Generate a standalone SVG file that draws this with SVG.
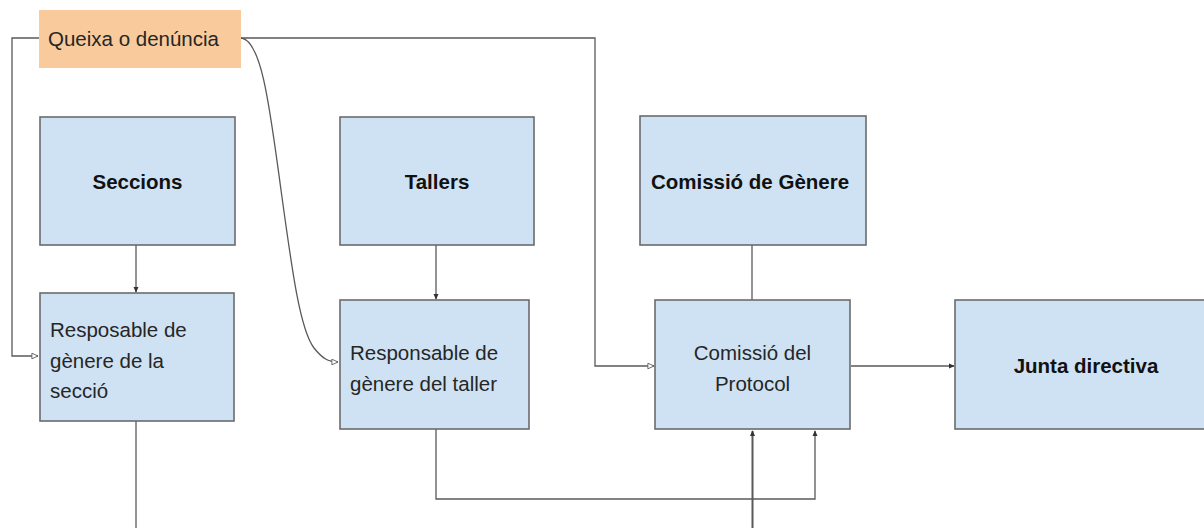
<svg xmlns="http://www.w3.org/2000/svg" width="1204" height="528" viewBox="0 0 1204 528">
<style>
.box{fill:#cfe2f3;stroke:#6b6b6b;stroke-width:1.6}
.q{fill:#f9cb9c;stroke:none}
.t{font-family:"Liberation Sans",Arial,sans-serif;font-size:20.5px;fill:#262626}
.b{font-family:"Liberation Sans",Arial,sans-serif;font-size:20.5px;font-weight:bold;fill:#111}
.c{fill:none;stroke:#595959;stroke-width:1.3}
</style>
<defs>
<marker id="fa" viewBox="0 0 8 8" refX="7" refY="4" markerWidth="6" markerHeight="6" orient="auto" markerUnits="userSpaceOnUse">
<path d="M0,0.5 L8,4 L0,7.5 Z" fill="#333"/>
</marker>
<marker id="oa" viewBox="0 0 8 8" refX="7.5" refY="4" markerWidth="7" markerHeight="7" orient="auto" markerUnits="userSpaceOnUse">
<path d="M0.5,0.8 L7.5,4 L0.5,7.2 Z" fill="#fff" stroke="#595959" stroke-width="1"/>
</marker>
</defs>
<rect width="1204" height="528" fill="#fff"/>
<g id="connectors">
<path class="c" d="M40,38 H12 V356 H38" marker-end="url(#oa)"/>
<path class="c" d="M241,38 H595 V366 H654" marker-end="url(#oa)"/>
<path class="c" d="M241,38 C262,40 270,110 281,190 C292,270 300,330 314,348 C322,358 328,362 338,362" marker-end="url(#oa)"/>
<path class="c" d="M136,245 V292" marker-end="url(#fa)"/>
<path class="c" d="M136,421 V528"/>
<path class="c" d="M436,245 V299" marker-end="url(#fa)"/>
<path class="c" d="M436,429 V499 H815 V431" marker-end="url(#fa)"/>
<path class="c" d="M752,245 V300"/>
<path class="c" style="stroke-width:2" d="M752.5,528 V431" marker-end="url(#fa)"/>
<path class="c" d="M851,366 H954" marker-end="url(#fa)"/>
</g>
<g id="queixa">
<rect class="q" x="39" y="10" width="202" height="58"/>
<text class="t" x="48" y="46">Queixa o denúncia</text>
</g>
<g id="seccions">
<rect class="box" x="40" y="117" width="195" height="128"/>
<text class="b" x="137.5" y="189" text-anchor="middle">Seccions</text>
</g>
<g id="tallers">
<rect class="box" x="340" y="117" width="194" height="128"/>
<text class="b" x="437" y="189" text-anchor="middle">Tallers</text>
</g>
<g id="comissio-genere">
<rect class="box" x="640" y="116" width="226" height="129"/>
<text class="b" x="750" y="189" text-anchor="middle">Comissió de Gènere</text>
</g>
<g id="resp-seccio">
<rect class="box" x="40" y="293" width="194" height="128"/>
<text class="t" x="50" y="337">Resposable de</text>
<text class="t" x="50" y="368">gènere de la</text>
<text class="t" x="50" y="398">secció</text>
</g>
<g id="resp-taller">
<rect class="box" x="340" y="300" width="189" height="129"/>
<text class="t" x="350" y="360">Responsable de</text>
<text class="t" x="350" y="391">gènere del taller</text>
</g>
<g id="comissio-protocol">
<rect class="box" x="655" y="300" width="195" height="129"/>
<text class="t" x="752.5" y="360" text-anchor="middle">Comissió del</text>
<text class="t" x="752.5" y="391" text-anchor="middle">Protocol</text>
</g>
<g id="junta">
<rect class="box" x="955" y="300" width="260" height="129"/>
<text class="b" x="1086" y="373" text-anchor="middle">Junta directiva</text>
</g>
</svg>
